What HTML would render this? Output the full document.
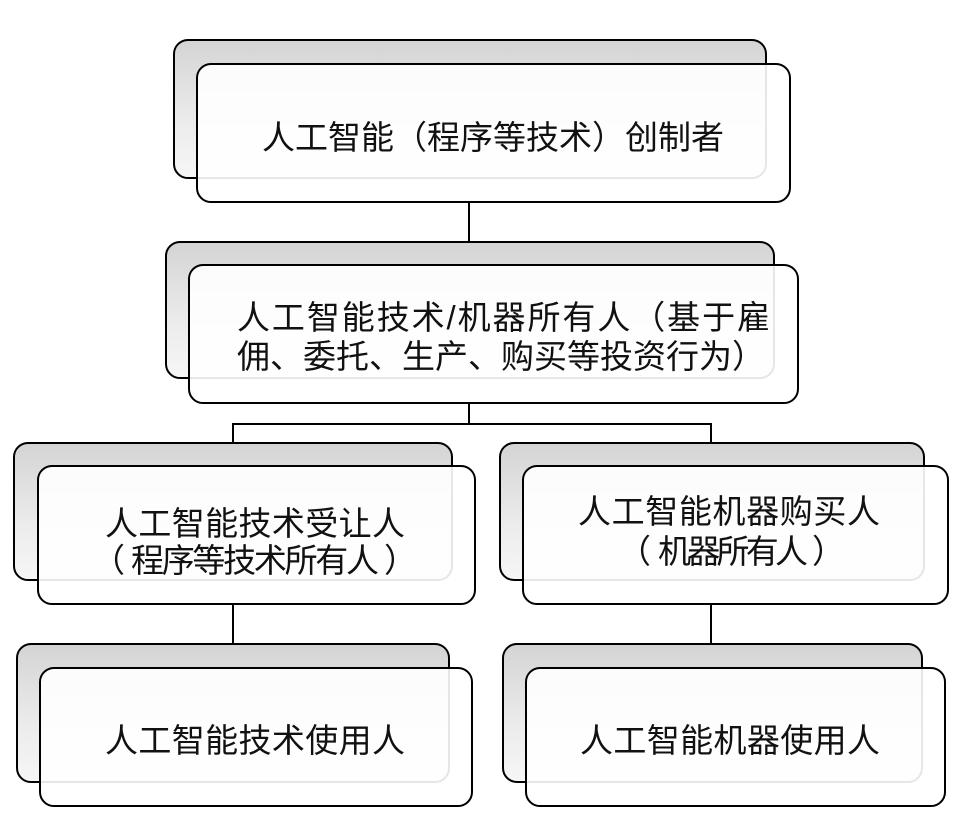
<!DOCTYPE html>
<html><head><meta charset="utf-8"><style>
html,body{margin:0;padding:0;background:#fff;}
svg{display:block}
text{font-family:"Liberation Sans","Noto Sans CJK SC",sans-serif;font-size:33px;fill:#111;}
</style></head><body>
<svg width="961" height="828" viewBox="0 0 961 828" xmlns="http://www.w3.org/2000/svg">
<defs>
<linearGradient id="g" x1="0" y1="0" x2="0" y2="1">
<stop offset="0" stop-color="#d4d4d4"/><stop offset="0.6" stop-color="#ececec"/><stop offset="1" stop-color="#f6f6f6"/>
</linearGradient>
</defs>
<g stroke="#000" stroke-width="2" fill="none">
<line x1="469" y1="202" x2="469" y2="242"/>
<polyline points="469,403 469,424 233,424 233,443"/>
<polyline points="469,424 711,424 711,443"/>
<line x1="233" y1="604" x2="233" y2="644"/>
<line x1="711" y1="604" x2="711" y2="644"/>
</g>
<g stroke="#000" stroke-width="2">
<rect x="174" y="40" width="592" height="138" rx="14" fill="url(#g)"/>
<rect x="197" y="64" width="593" height="138" rx="14" fill="#fff" fill-opacity="0.9"/>
<rect x="166" y="242" width="608" height="136" rx="14" fill="url(#g)"/>
<rect x="189" y="265" width="609" height="138" rx="14" fill="#fff" fill-opacity="0.9"/>
<rect x="14" y="443" width="438" height="137" rx="14" fill="url(#g)"/>
<rect x="38" y="466" width="437" height="138" rx="14" fill="#fff" fill-opacity="0.9"/>
<rect x="500" y="443" width="424" height="137" rx="14" fill="url(#g)"/>
<rect x="523" y="466" width="425" height="138" rx="14" fill="#fff" fill-opacity="0.9"/>
<rect x="17" y="644" width="432" height="138" rx="14" fill="url(#g)"/>
<rect x="40" y="668" width="432" height="138" rx="14" fill="#fff" fill-opacity="0.9"/>
<rect x="503" y="644" width="419" height="138" rx="14" fill="url(#g)"/>
<rect x="526" y="668" width="419" height="138" rx="14" fill="#fff" fill-opacity="0.9"/>
</g>
<text x="262" y="149">人工智能（程序等技术）创制者</text>
<text x="237" y="329" textLength="533" lengthAdjust="spacing">人工智能技术/机器所有人（基于雇</text>
<text x="237" y="368">佣、委托、生产、购买等投资行为）</text>
<text x="105" y="535" textLength="300" lengthAdjust="spacing">人工智能技术受让人</text>
<text x="92" y="572">（</text>
<text x="131" y="572" textLength="248" lengthAdjust="spacing">程序等技术所有人</text>
<text x="384" y="572">）</text>
<text x="578" y="523" textLength="302" lengthAdjust="spacing">人工智能机器购买人</text>
<text x="618" y="563">（</text>
<text x="658" y="563" textLength="150" lengthAdjust="spacing">机器所有人</text>
<text x="812" y="563">）</text>
<text x="105" y="752" textLength="300" lengthAdjust="spacing">人工智能技术使用人</text>
<text x="580" y="752" textLength="300" lengthAdjust="spacing">人工智能机器使用人</text>
</svg>
</body></html>
